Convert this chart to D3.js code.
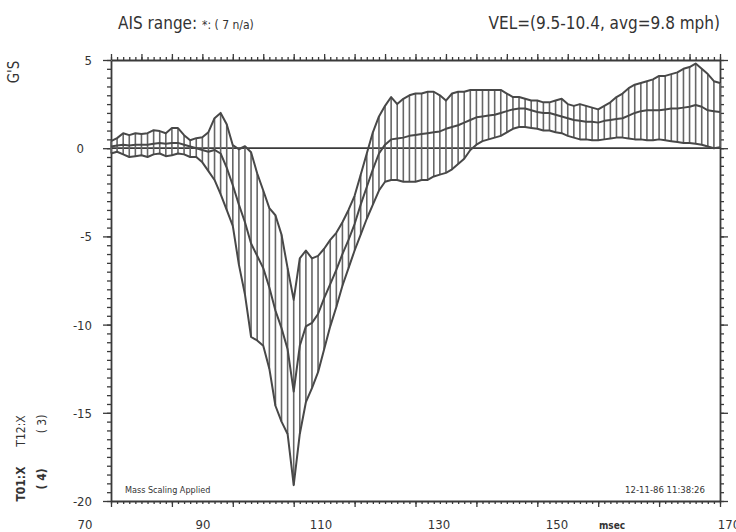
<!DOCTYPE html>
<html>
<head>
<meta charset="utf-8">
<script src="https://cdn.jsdelivr.net/npm/d3@7"></script>
<style>
  body { margin: 0; background: #fff; }
  text { font-family: "DejaVu Sans Condensed", "DejaVu Sans", sans-serif; fill: #333; }
</style>
</head>
<body>
<div id="chart"></div>
<script>
// time samples, msec
var msec = [
  70, 71, 72, 73, 74, 75, 76, 77, 78, 79,
  80, 81, 82, 83, 84, 85, 86, 87, 88, 89,
  90, 91, 92, 93, 94, 95, 96, 97, 98, 99,
  100, 101, 102, 103, 104, 105, 106, 107, 108, 109,
  110, 111, 112, 113, 114, 115, 116, 117, 118, 119,
  120, 121, 122, 123, 124, 125, 126, 127, 128, 129,
  130, 131, 132, 133, 134, 135, 136, 137, 138, 139,
  140, 141, 142, 143, 144, 145, 146, 147, 148, 149,
  150, 151, 152, 153, 154, 155, 156, 157, 158, 159,
  160, 161, 162, 163, 164, 165, 166, 167, 168, 169,
  170];

// upper corridor (G's)
var upper = [
  0.4, 0.57, 0.85, 0.74, 0.85, 0.8, 0.85, 1.02, 0.97, 0.85,
  1.14, 1.14, 0.74, 0.45, 0.57, 0.62, 0.91, 1.7, 2.0, 1.36,
  0.17, -0.06, 0.11, -0.23, -1.42, -2.4, -3.4, -3.8, -4.9, -6.8,
  -8.6, -6.25, -5.8, -6.25, -6.1, -5.7, -5.2, -4.8, -4.2, -3.5,
  -2.7, -1.5, -0.3, 0.9, 1.8, 2.4, 2.9, 2.5, 2.8, 3.0,
  3.1, 3.1, 3.2, 3.2, 3.0, 2.7, 3.1, 3.2, 3.2, 3.3,
  3.3, 3.3, 3.3, 3.3, 3.3, 3.1, 2.9, 2.9, 2.8, 2.7,
  2.7, 2.6, 2.6, 2.7, 2.8, 2.5, 2.4, 2.5, 2.4, 2.3,
  2.2, 2.4, 2.6, 2.9, 3.1, 3.4, 3.6, 3.7, 3.8, 3.9,
  4.1, 4.1, 4.2, 4.3, 4.5, 4.6, 4.8, 4.5, 4.2, 3.8,
  3.7];

// lower corridor (G's)
var lower = [
  -0.3, -0.2, -0.35, -0.5, -0.45, -0.4, -0.5, -0.35, -0.3, -0.45,
  -0.4, -0.3, -0.35, -0.5, -0.5, -0.8, -1.3, -1.8, -2.6, -3.5,
  -4.4, -6.6, -8.3, -10.7, -10.9, -11.2, -12.5, -14.6, -15.5, -16.2,
  -19.1, -16.2, -14.4, -13.6, -12.7, -11.4, -10.1, -9.0, -7.8, -6.8,
  -5.8, -4.9, -4.0, -3.2, -2.4, -1.9, -1.8, -1.8, -1.9, -1.9,
  -1.9, -1.8, -1.8, -1.6, -1.5, -1.4, -1.2, -0.9, -0.6, -0.1,
  0.2, 0.4, 0.5, 0.6, 0.7, 0.9, 1.1, 1.2, 1.2, 1.15,
  1.1, 1.0, 1.0, 0.9, 0.85, 0.7, 0.6, 0.5, 0.5, 0.45,
  0.45, 0.5, 0.55, 0.6, 0.6, 0.55, 0.5, 0.5, 0.45, 0.45,
  0.5, 0.45, 0.4, 0.35, 0.3, 0.3, 0.25, 0.2, 0.1, 0.0,
  0.05];

// mean (G's)
var mean = [
  0.1, 0.15, 0.2, 0.15, 0.2, 0.2, 0.2, 0.25, 0.3, 0.25,
  0.3, 0.3, 0.2, 0.1, 0.0, -0.1, -0.2, -0.1, -0.3, -1.1,
  -2.1, -3.2, -4.2, -5.4, -6.1, -6.8, -7.9, -9.2, -10.2, -11.4,
  -13.8, -11.2, -10.1, -9.9, -9.4, -8.5, -7.7, -6.9, -6.0, -5.2,
  -4.3, -3.2, -2.2, -1.2, -0.3, 0.2, 0.5, 0.55, 0.6, 0.7,
  0.75, 0.8, 0.85, 0.9, 0.95, 1.1, 1.2, 1.3, 1.45, 1.6,
  1.75, 1.8, 1.85, 1.9, 2.0, 2.1, 2.2, 2.25, 2.25, 2.15,
  2.05, 2.0, 2.0, 1.9, 1.8, 1.7, 1.6, 1.55, 1.5, 1.5,
  1.45, 1.55, 1.6, 1.65, 1.7, 1.85, 2.0, 2.1, 2.15, 2.15,
  2.15, 2.2, 2.25, 2.25, 2.3, 2.35, 2.45, 2.35, 2.15, 2.1,
  2.05];

var xTickLabels = [70, 90, 110, 130, 150, 170];
var yTickLabels = [5, 0, -5, -10, -15, -20];

var W = 736, H = 532;
var plotL = 111, plotR = 720, plotT = 60, plotB = 501;

var svg = d3.select("#chart")
  .append("svg")
    .attr("width", W)
    .attr("height", H);

var x = d3.scaleLinear().domain([70, 170]).range([plotL, plotR]);
var y = d3.scaleLinear().domain([-20, 5]).range([plotB, plotT]);
// tick labels sit a little off the ticks on the original plot
var xLab = d3.scaleLinear().domain([70, 150, 170]).range([85, 557, 729]);

var ink = "#3a3a3a";

//////////
// AXES //
//////////

function styleAxis(g, w) {
  g.selectAll("path").attr("stroke", ink).attr("stroke-width", w);
  g.selectAll("line").attr("stroke", ink).attr("stroke-width", 1.3);
}

var every1 = d3.range(70, 171, 1), every5 = d3.range(70, 171, 5), every10 = d3.range(70, 171, 10);
var yHalf = d3.range(-20, 5.01, 0.5), yFive = d3.range(-20, 5.01, 5);

svg.append("g").attr("transform", "translate(0," + plotB + ")")
  .call(d3.axisBottom(x).tickValues(every1).tickSize(3).tickSizeOuter(0).tickFormat(""))
  .call(styleAxis, 1.8);
svg.append("g").attr("transform", "translate(0," + plotB + ")")
  .call(d3.axisBottom(x).tickValues(every10).tickSize(6).tickSizeOuter(0).tickFormat(""))
  .call(styleAxis, 0);

svg.append("g").attr("transform", "translate(0," + plotT + ")")
  .call(d3.axisTop(x).tickValues(every1).tickSize(3).tickSizeOuter(0).tickFormat(""))
  .call(styleAxis, 1.8);
svg.append("g").attr("transform", "translate(0," + plotT + ")")
  .call(d3.axisTop(x).tickValues(every5).tickSize(6).tickSizeOuter(0).tickFormat(""))
  .call(styleAxis, 0);

svg.append("g").attr("transform", "translate(" + plotL + ",0)")
  .call(d3.axisLeft(y).tickValues(yHalf).tickSize(4).tickSizeOuter(0).tickFormat(""))
  .call(styleAxis, 1.8);
svg.append("g").attr("transform", "translate(" + plotL + ",0)")
  .call(d3.axisLeft(y).tickValues(yFive).tickSize(8).tickSizeOuter(0).tickFormat(""))
  .call(styleAxis, 0);

svg.append("g").attr("transform", "translate(" + plotR + ",0)")
  .call(d3.axisRight(y).tickValues(yHalf).tickSize(4).tickSizeOuter(0).tickFormat(""))
  .call(styleAxis, 1.8);
svg.append("g").attr("transform", "translate(" + plotR + ",0)")
  .call(d3.axisRight(y).tickValues(yFive).tickSize(8).tickSizeOuter(0).tickFormat(""))
  .call(styleAxis, 0);

// tick labels
svg.selectAll("xlab")
  .data(xTickLabels)
  .enter()
  .append("text")
    .attr("x", function(d) { return xLab(d); })
    .attr("y", 529)
    .attr("text-anchor", "middle")
    .style("font-size", "13px")
    .text(function(d) { return d; });

svg.selectAll("ylab")
  .data(yTickLabels)
  .enter()
  .append("text")
    .attr("x", function(d) { return d === 0 ? 84 : 92; })
    .attr("y", function(d) { return y(d) + 5; })
    .attr("text-anchor", "end")
    .style("font-size", "13px")
    .text(function(d) { return d < 0 ? "-" + Math.abs(d) : d; });

//////////
// CORRIDOR //
//////////

var plot = svg.append("g");

// zero line
plot.append("line")
  .attr("x1", x(70)).attr("x2", x(170))
  .attr("y1", y(0)).attr("y2", y(0))
  .attr("stroke", ink).attr("stroke-width", 1.7);

// vertical hatch between the corridor bounds
plot.selectAll("hatch")
  .data(msec)
  .enter()
  .append("line")
    .attr("x1", function(d) { return x(d); })
    .attr("x2", function(d) { return x(d); })
    .attr("y1", function(d, i) { return y(upper[i]); })
    .attr("y2", function(d, i) { return y(lower[i]); })
    .attr("stroke", "#666")
    .attr("stroke-width", 1.6);

var line = d3.line()
  .x(function(d) { return x(d[0]); })
  .y(function(d) { return y(d[1]); });

[upper, lower, mean].forEach(function(s) {
  plot.append("path")
    .datum(msec.map(function(t, i) { return [t, s[i]]; }))
    .attr("fill", "none")
    .attr("stroke", "#484848")
    .attr("stroke-width", 2)
    .attr("stroke-linejoin", "round")
    .attr("d", line);
});

//////////
// TEXT //
//////////

var title = svg.append("text").attr("x", 118).attr("y", 29).style("font-size", "17px");
title.append("tspan").text("AIS range: ");
title.append("tspan").style("font-size", "12px").text("*: ( 7 n/a)");

svg.append("text")
  .attr("x", 720).attr("y", 29)
  .attr("text-anchor", "end")
  .style("font-size", "17px")
  .text("VEL=(9.5-10.4, avg=9.8 mph)");

svg.append("text")
  .attr("transform", "translate(19,72) rotate(-90)")
  .attr("text-anchor", "middle")
  .style("font-size", "15px")
  .text("G'S");

svg.append("text")
  .attr("transform", "translate(25,484) rotate(-90)")
  .attr("text-anchor", "middle")
  .style("font-size", "12px")
  .style("font-weight", "bold")
  .text("T01:X");
svg.append("text")
  .attr("transform", "translate(46,479) rotate(-90)")
  .attr("text-anchor", "middle")
  .style("font-size", "12px")
  .style("font-weight", "bold")
  .text("( 4)");
svg.append("text")
  .attr("transform", "translate(25,431) rotate(-90)")
  .attr("text-anchor", "middle")
  .style("font-size", "12px")
  .text("T12:X");
svg.append("text")
  .attr("transform", "translate(46,424) rotate(-90)")
  .attr("text-anchor", "middle")
  .style("font-size", "12px")
  .text("( 3)");

svg.append("text")
  .attr("x", 125).attr("y", 493)
  .style("font-size", "9px")
  .text("Mass Scaling Applied");

svg.append("text")
  .attr("x", 705).attr("y", 493)
  .attr("text-anchor", "end")
  .style("font-size", "9.5px")
  .text("12-11-86  11:38:26");

svg.append("text")
  .attr("x", 612).attr("y", 529)
  .attr("text-anchor", "middle")
  .style("font-size", "10px")
  .style("font-weight", "bold")
  .text("msec");
</script>
</body>
</html>
